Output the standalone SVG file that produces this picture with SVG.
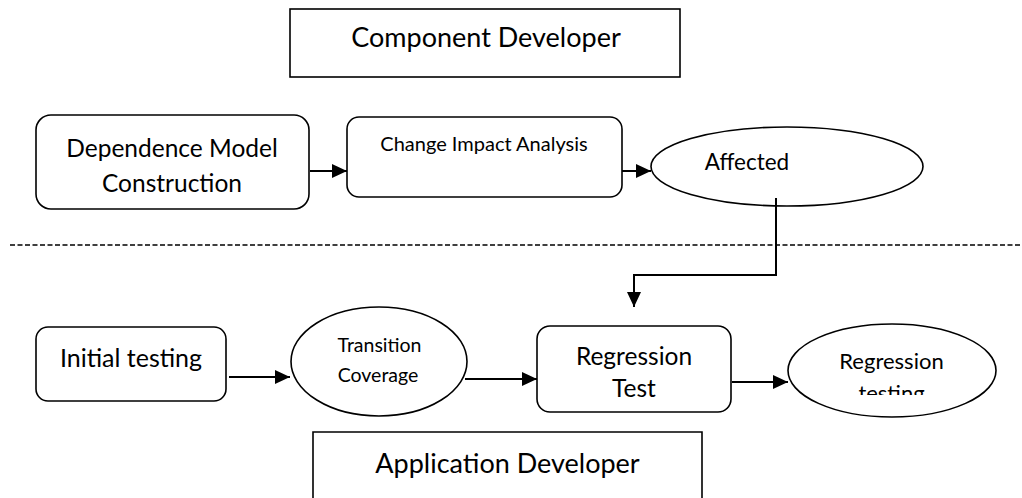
<svg xmlns="http://www.w3.org/2000/svg" width="1022" height="498" viewBox="0 0 1022 498">
  <style>
    .box { fill: #fff; stroke: #000; stroke-width: 1.6; }
    .conn { fill: none; stroke: #000; stroke-width: 2; }
    .dash { fill: none; stroke: #000; stroke-width: 1.5; stroke-dasharray: 5 2.5; }
    text { font-family: Lato, "Liberation Sans", sans-serif; fill: #000; text-anchor: middle; }
  </style>
  <defs>
    <marker id="arr" markerUnits="userSpaceOnUse" markerWidth="16" markerHeight="16" refX="15" refY="7" orient="auto">
      <path d="M0,0 L15,7 L0,14 Z" fill="#000"/>
    </marker>
    <clipPath id="clipRT">
      <rect x="780" y="320" width="230" height="75"/>
    </clipPath>
  </defs>

  <g id="component-developer">
    <rect class="box" x="290" y="9" width="390" height="68"/>
    <text x="486" y="47" font-size="27">Component Developer</text>
  </g>

  <g id="dependence-model">
    <rect class="box" x="36" y="115" width="273" height="94" rx="15" ry="15"/>
    <text x="172" y="157" font-size="24.5">Dependence Model</text>
    <text x="172" y="192" font-size="24.5">Construction</text>
  </g>

  <g id="change-impact">
    <rect class="box" x="347" y="117" width="275" height="80" rx="12" ry="12"/>
    <text x="484" y="151" font-size="20">Change Impact Analysis</text>
  </g>

  <g id="affected">
    <ellipse class="box" cx="787" cy="166.5" rx="136" ry="39.5"/>
    <text x="747" y="170" font-size="22.5">Affected</text>
  </g>

  <g id="separator">
    <line class="dash" x1="10" y1="245" x2="1022" y2="245"/>
  </g>

  <g id="initial-testing">
    <rect class="box" x="36" y="327" width="190" height="74" rx="12" ry="12"/>
    <text x="131" y="367" font-size="25">Initial testing</text>
  </g>

  <g id="transition-coverage">
    <ellipse class="box" cx="379" cy="361.5" rx="88" ry="54.5"/>
    <text x="379.5" y="352" font-size="19.5">Transition</text>
    <text x="378" y="382" font-size="19.5">Coverage</text>
  </g>

  <g id="regression-test">
    <rect class="box" x="537" y="326" width="194" height="86" rx="13" ry="13"/>
    <text x="634" y="365" font-size="24.5">Regression</text>
    <text x="634" y="397" font-size="24.5">Test</text>
  </g>

  <g id="regression-testing">
    <ellipse class="box" cx="892" cy="370.5" rx="104" ry="46.5"/>
    <g clip-path="url(#clipRT)">
      <text x="891.5" y="369" font-size="22">Regression</text>
      <text x="891.5" y="401" font-size="22">testing</text>
    </g>
  </g>

  <g id="application-developer">
    <path class="box" d="M313,500 L313,432 L702,432 L702,500"/>
    <text x="507.5" y="473" font-size="27">Application Developer</text>
  </g>

  <g id="connectors">
    <line class="conn" x1="310" y1="171" x2="347" y2="171" marker-end="url(#arr)"/>
    <line class="conn" x1="622" y1="171" x2="651" y2="171" marker-end="url(#arr)"/>
    <polyline class="conn" points="776,198 776,275 634,275 634,307" marker-end="url(#arr)"/>
    <line class="conn" x1="229" y1="377" x2="290" y2="377" marker-end="url(#arr)"/>
    <line class="conn" x1="465" y1="379" x2="537" y2="379" marker-end="url(#arr)"/>
    <line class="conn" x1="732" y1="382" x2="788" y2="382" marker-end="url(#arr)"/>
  </g>
</svg>
